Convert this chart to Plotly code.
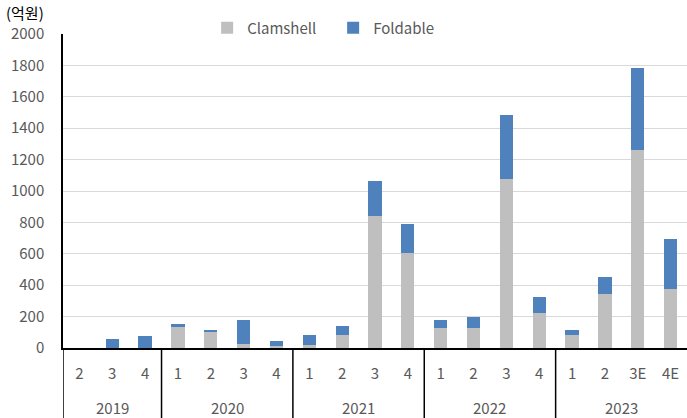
import plotly.graph_objects as go

years = ["2019"] * 3 + ["2020"] * 4 + ["2021"] * 4 + ["2022"] * 4 + ["2023"] * 4
quarters = ["2", "3", "4", "1", "2", "3", "4", "1", "2", "3", "4",
            "1", "2", "3", "4", "1", "2", "3E", "4E"]
clamshell = [0, 3, 3, 140, 102, 25, 15, 17, 83, 838, 603,
             129, 129, 1076, 224, 83, 347, 1263, 377]
foldable = [0, 52, 71, 10, 11, 153, 28, 66, 57, 228, 190,
            49, 68, 407, 104, 29, 104, 522, 320]

FONT = "Noto Sans CJK KR"
TXT = "#595959"
idx = list(range(len(quarters)))

fig = go.Figure()
fig.add_trace(go.Bar(x=idx, y=clamshell, name="Clamshell",
                     marker=dict(color="#BFBFBF", line=dict(width=0))))
fig.add_trace(go.Bar(x=idx, y=foldable, name="Foldable",
                     marker=dict(color="#4F81BD", line=dict(width=0))))

# year group labels and dividers, derived from the years list
groups = []
for i, yr in enumerate(years):
    if not groups or groups[-1][0] != yr:
        groups.append([yr, i, i])
    else:
        groups[-1][2] = i

annotations = [dict(text="(억원)", xref="paper", yref="paper",
                    x=(4 - 63) / 624, y=(348 - 13) / 314,
                    xanchor="left", yanchor="middle", showarrow=False,
                    font=dict(family=FONT, size=15, color="#000000"))]
shapes = []
for yr, a, b in groups:
    annotations.append(dict(text=yr, xref="x", yref="paper", x=(a + b) / 2,
                            y=(348 - 407) / 314, xanchor="center", yanchor="middle",
                            showarrow=False, font=dict(family=FONT, size=15, color=TXT)))
    shapes.append(dict(type="line", xref="x", yref="paper", x0=a - 0.5, x1=a - 0.5,
                       y0=0, y1=-70 / 314, line=dict(color="#000000", width=1.5)))

fig.update_layout(
    barmode="stack",
    bargap=0.595,
    width=687, height=418,
    margin=dict(l=63, r=0, t=34, b=70),
    paper_bgcolor="white", plot_bgcolor="white",
    font=dict(family=FONT, size=15, color=TXT),
    showlegend=True,
    legend=dict(orientation="h", x=0.231, xanchor="left", y=(348 - 28) / 314, yanchor="middle",
                font=dict(family=FONT, size=15, color=TXT),
                entrywidth=81, entrywidthmode="pixels",
                bgcolor="rgba(0,0,0,0)", traceorder="normal"),
    annotations=annotations,
    shapes=shapes,
)
fig.update_yaxes(range=[0, 2000], dtick=200, showgrid=True, gridcolor="#D9D9D9",
                 gridwidth=1, zeroline=False, showline=True, linecolor="#000000",
                 linewidth=1.5, ticks="", ticklabelstandoff=14,
                 tickfont=dict(family=FONT, size=15, color=TXT))
fig.update_xaxes(range=[-0.5, len(quarters) - 0.5], tickmode="array", tickvals=idx,
                 ticktext=quarters, showgrid=False, zeroline=False,
                 showline=True, linecolor="#000000", linewidth=1.5,
                 ticks="", ticklabelstandoff=11,
                 tickfont=dict(family=FONT, size=15, color=TXT))

fig.write_html("out.html")
